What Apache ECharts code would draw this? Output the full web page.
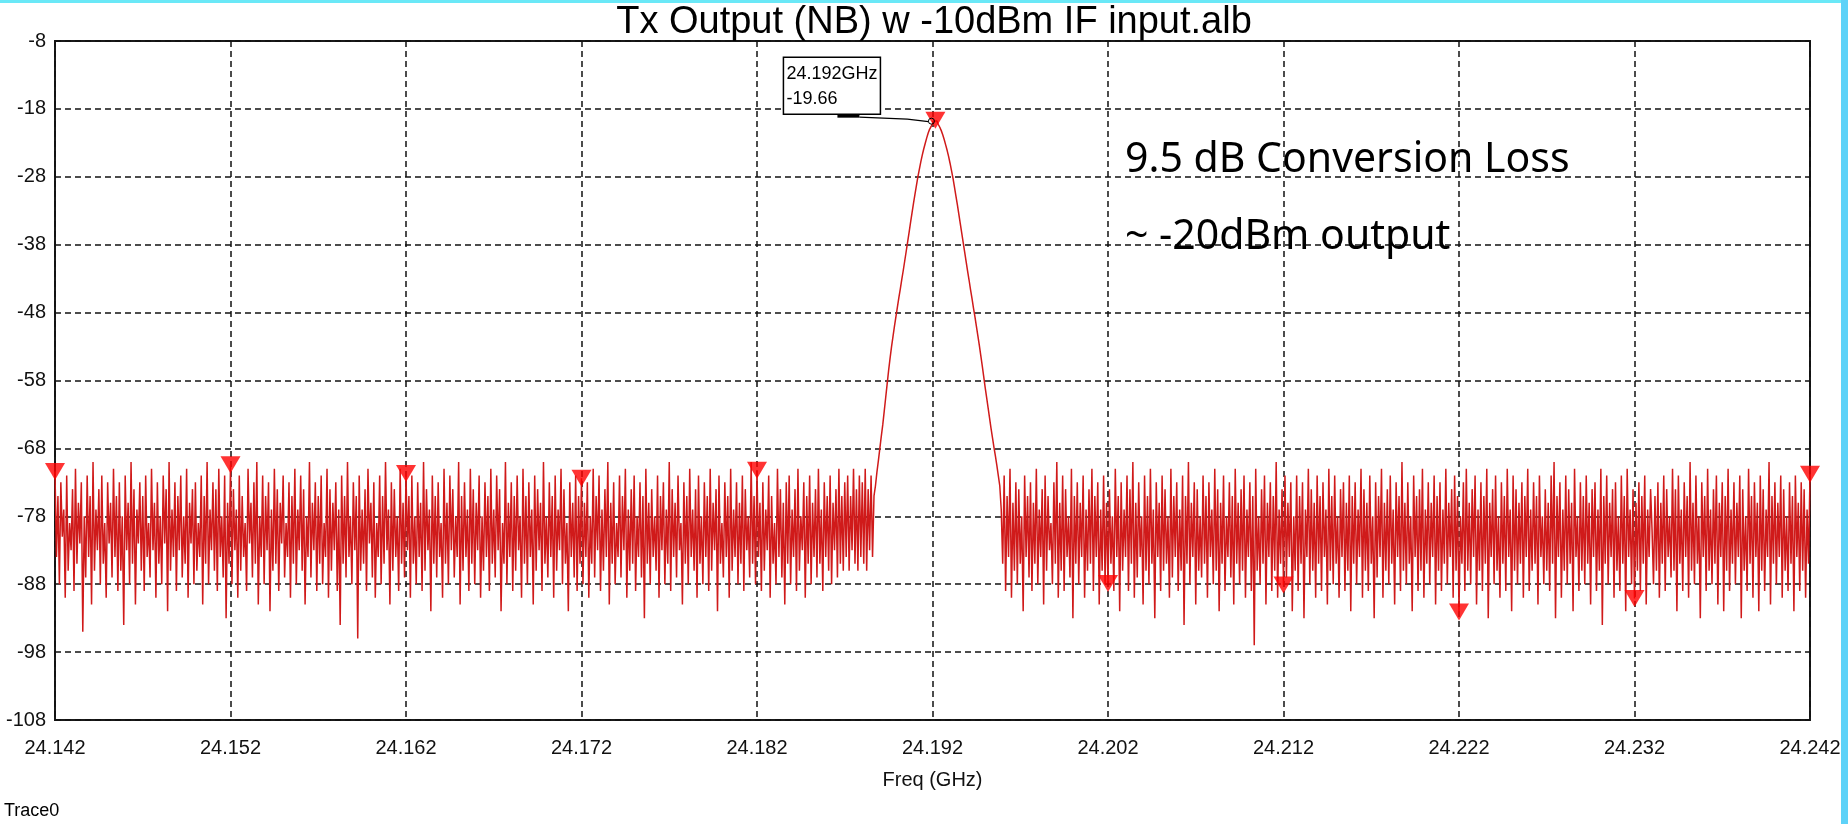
<!DOCTYPE html>
<html><head><meta charset="utf-8">
<script src="https://cdn.jsdelivr.net/npm/echarts@6/dist/echarts.min.js"></script>
<style>
html,body{margin:0;padding:0;background:#fff;}
#c{position:absolute;left:0;top:0;width:1848px;height:824px;}
#topbar{position:absolute;left:0;top:0;width:1848px;height:3px;background:#6ae8f7;}
#rightbar{position:absolute;left:1841px;top:0;width:7px;height:824px;background:#5ed2f8;}
</style></head><body>
<div id="c"></div><div id="topbar"></div><div id="rightbar"></div>
<script>
// ---- data ----
const TITLE = 'Tx Output (NB) w -10dBm IF input.alb';
const X_NAME = 'Freq (GHz)';
const TRACE_NAME = 'Trace0';
const NOTE_1 = '9.5 dB Conversion Loss';
const NOTE_2 = '~ -20dBm output';
const FREQ_START = 24.142;
const FREQ_STOP = 24.242;
const X_TICK_STEP = 0.01;
const Y_MIN = -108, Y_MAX = -8, Y_TICK_STEP = 10;
const PEAK_LABEL_FREQ = '24.192GHz';
const PEAK_LABEL_VALUE = '-19.66';

// sweep values (dBm), left noise floor up to the carrier
const NOISE_LEFT = [
-71.4,-84,-75,-88,-73,-81,-77,-90,-72,-86,-79,-83,-74,-89,-71,-85,-76,-82,-73,-95,
-78,-87,-72,-84,-75,-91,-70,-86,-77,-83,-74,-88,-72,-85,-79,-90,-73,-82,-76,-87,
-71,-84,-75,-89,-73,-86,-78,-94,-72,-83,-76,-88,-70,-85,-74,-91,-77,-82,-73,-86,
-75,-89,-72,-84,-79,-87,-71,-83,-76,-90,-73,-85,-78,-88,-72,-82,-74,-92,-70,-86,
-77,-84,-73,-89,-75,-83,-72,-87,-78,-85,-71,-90,-76,-82,-74,-88,-73,-86,-79,-84,
-72,-91,-75,-85,-70,-88,-77,-83,-73,-86,-74,-89,-71,-84,-78,-87,-72,-93,-76,-85,
-70.4,-88,-74,-83,-77,-90,-72,-86,-75,-84,-79,-89,-71,-82,-76,-87,-73,-85,-70,-91,
-78,-84,-72,-88,-75,-83,-73,-92,-77,-86,-71,-85,-74,-89,-76,-82,-72,-87,-79,-84,
-73,-90,-75,-85,-71,-88,-77,-83,-72,-86,-74,-91,-78,-84,-70,-87,-76,-83,-73,-89,
-75,-85,-72,-88,-79,-84,-71,-90,-74,-86,-76,-83,-73,-89,-77,-94,-72,-85,-75,-87,
-70,-84,-78,-88,-73,-83,-75,-96,-72,-86,-77,-85,-74,-89,-71,-82,-76,-87,-73,-90,
-79,-84,-72,-88,-75,-85,-70,-83,-77,-91,-73,-86,-74,-84,-78,-89,-71,-85,-76,-87,
-71.7,-83,-75,-90,-72,-85,-78,-88,-73,-84,-76,-89,-70,-86,-74,-83,-77,-92,-72,-85,
-75,-87,-73,-84,-79,-90,-71,-85,-76,-88,-72,-83,-74,-87,-78,-84,-70,-91,-75,-86,
-73,-84,-77,-89,-71,-85,-74,-88,-76,-83,-72,-90,-78,-86,-73,-84,-75,-89,-71,-85,
-77,-87,-72,-83,-74,-92,-79,-85,-70,-88,-76,-84,-73,-89,-75,-86,-72,-83,-78,-90,
-71,-85,-75,-88,-73,-84,-77,-91,-72,-86,-74,-83,-76,-89,-70,-85,-78,-87,-73,-84,
-75,-90,-72,-86,-77,-83,-71,-88,-74,-85,-79,-92,-73,-84,-76,-87,-72,-89,-75,-85,
-72.4,-88,-76,-84,-73,-90,-78,-85,-71,-87,-75,-83,-72,-89,-77,-86,-74,-84,-70,-91,
-76,-85,-73,-88,-79,-84,-72,-87,-75,-83,-71,-90,-77,-86,-74,-85,-72,-89,-78,-84,
-73,-87,-75,-93,-71,-85,-76,-88,-74,-84,-78,-86,-72,-90,-75,-83,-73,-88,-77,-85,
-70,-89,-74,-84,-76,-87,-72,-83,-79,-91,-73,-85,-75,-88,-71,-84,-77,-86,-74,-90,
-72,-85,-78,-88,-73,-84,-75,-89,-71,-86,-76,-83,-74,-92,-72,-85,-79,-87,-73,-84,
-75,-90,-71,-86,-77,-84,-73,-88,-76,-85,-72,-89,-74,-83,-78,-87,-70,-85,-75,-88,
-71.2,-84,-76,-89,-73,-86,-77,-83,-72,-90,-75,-85,-79,-88,-71,-84,-74,-87,-76,-91,
-73,-85,-72,-88,-77,-84,-74,-89,-71,-86,-78,-83,-73,-90,-75,-85,-72,-88,-76,-84,
-74,-87,-71,-85,-77,-89,-73,-84,-75,-86,-72,-88,-76,-83,-74,-87,-71,-85,-75,-86,
-73,-84,-72,-86,-75,-83,-71,-85,-74,-86,-72,-84,-73,-85,-71,-86,-74,-83,-72,-84,
-75
];
// carrier: rising edge, peak, falling edge
const PEAK_RISE = [-73.5,-71.5,-69.8,-68,-66.2,-64.5,-62.5,-60.5,-58.5,-56.5,-54.7,-53,-51.5,-50,-48.6,-47.2,-45.8,-44.5,-43.1,-41.8,-40.4,-39,-37.6,-36.2,-34.7,-33.3,-31.9,-30.6,-29.3,-28,-26.9,-25.8,-24.8,-23.9,-23.1,-22.3,-21.6,-21,-20.6,-20.2,-19.8];
const PEAK_VALUE = -19.66;
const PEAK_FALL = [-19.8,-20.3,-20.7,-21.2,-21.8,-22.5,-23.3,-24.1,-25,-26,-27.1,-28.2,-29.5,-30.8,-32.1,-33.5,-34.9,-36.3,-37.7,-39.1,-40.5,-41.9,-43.2,-44.6,-45.9,-47.3,-48.6,-50,-51.4,-52.8,-54.3,-55.8,-57.4,-59,-60.5,-62,-63.5,-65,-66.4,-67.8,-69.1,-70.5,-72,-73.5];
// right noise floor
const NOISE_RIGHT = [
-77,-85,-72,-89,-75,-84,-71,-90,-76,-86,-73,-88,-74,-85,-78,-92,-72,-84,-75,-87,
-73,-89,-76,-85,-71,-88,-77,-84,-74,-91,-72,-86,-75,-83,-79,-88,-73,-85,-70,-90,
-76,-86,-72,-89,-74,-84,-78,-87,-71,-93,-75,-85,-73,-88,-76,-84,-72,-90,-77,-86,
-74,-85,-71,-89,-75,-84,-73,-91,-77,-86,-72,-88,-76,-87.9,-74,-85,-78,-89,-71,-84,
-75,-92,-73,-86,-77,-84,-72,-89,-74,-85,-70,-90,-76,-87,-73,-84,-78,-91,-72,-86,
-75,-88,-71,-85,-77,-93,-73,-84,-76,-89,-72,-86,-74,-85,-78,-90,-71,-87,-75,-84,
-73,-89,-77,-86,-72,-94,-75,-85,-70,-88,-76,-84,-73,-91,-74,-86,-78,-87,-72,-85,
-75,-90,-73,-84,-77,-88,-71,-86,-74,-92,-76,-85,-72,-89,-78,-84,-73,-87,-75,-91,
-71,-85,-76,-88,-74,-86,-72,-90,-77,-84,-73,-89,-75,-97,-71,-86,-78,-88,-74,-85,
-72,-91,-76,-84,-73,-89,-75,-86,-70,-90,-77,-85,-74,-88.1,-72,-87,-76,-84,-73,-92,
-78,-86,-72,-89,-75,-85,-73,-93,-77,-84,-71,-88,-74,-86,-76,-90,-72,-85,-75,-89,
-73,-84,-77,-91,-71,-86,-75,-88,-72,-85,-78,-90,-74,-84,-73,-89,-76,-86,-72,-92,
-75,-85,-73,-88,-77,-84,-71,-90,-74,-86,-76,-89,-72,-85,-78,-93,-73,-87,-75,-84,
-71,-90,-76,-86,-74,-88,-72,-85,-77,-91,-73,-84,-75,-89,-70,-86,-76,-88,-73,-85,
-78,-92,-72,-84,-75,-89,-74,-86,-71,-90,-77,-85,-73,-88,-76,-84,-72,-91,-75,-86,
-73,-89,-77,-85,-71,-88,-76,-84,-74,-90,-72,-86,-75,-92.1,-78,-85,-73,-89,-71,-86,
-76,-88,-74,-84,-72,-91,-77,-86,-73,-89,-75,-85,-71,-93,-76,-84,-74,-88,-72,-86,
-78,-90,-73,-85,-75,-89,-71,-84,-77,-92,-72,-86,-74,-88,-76,-85,-73,-90,-75,-84,
-71,-89,-77,-86,-73,-85,-75,-91,-72,-84,-78,-88,-74,-86,-76,-89,-72,-85,-70,-93,
-75,-84,-73,-90,-77,-86,-72,-88,-74,-85,-76,-92,-71,-84,-78,-89,-73,-86,-75,-88,
-72,-85,-76,-91,-74,-84,-73,-89,-77,-86,-71,-94,-75,-85,-72,-88,-76,-84,-74,-90,
-73,-86,-78,-89,-72,-85,-75,-92,-71,-84,-77,-88,-74,-90.1,-76,-86,-73,-89,-75,-85,
-72,-91,-77,-84,-74,-80,-88,-75,-86,-73,-90,-76,-85,-72,-89,-74,-84,-78,-87,-71,
-86,-74,-92,-72,-85,-77,-89,-73,-84,-75,-90,-70,-86,-76,-88,-72,-85,-78,-93,-73,
-84,-75,-89,-71,-86,-77,-88,-74,-85,-72,-91,-76,-84,-73,-92,-75,-86,-71,-89,-77,
-85,-73,-88,-76,-84,-72,-93,-74,-86,-78,-89,-71,-85,-75,-90,-73,-84,-76,-92,-72,
-86,-74,-89,-77,-84,-70,-91,-75,-85,-73,-88,-76,-84,-72,-90,-74,-86,-78,-89,-73,
-85,-75,-92,-72,-84,-76,-89,-73,-86,-74,-90,-77,-85,-71.8
];
// trace markers: sweep indices at each grid frequency, plus the peak
const MARKER_INDEX = [0,120,240,360,480,602,720,840,960,1080,1200];

// ---- build ----
const trace = [].concat(NOISE_LEFT, PEAK_RISE, [PEAK_VALUE], PEAK_FALL, NOISE_RIGHT);
const nPts = trace.length;
const freqs = trace.map((_, i) => +(FREQ_START + i * (FREQ_STOP - FREQ_START) / (nPts - 1)).toFixed(7));
const lineData = trace.map((v, i) => [freqs[i], v]);
const markerData = MARKER_INDEX.map(i => [freqs[i], trace[i]]);
const PEAK_INDEX = NOISE_LEFT.length + PEAK_RISE.length;

const FONT = '"Liberation Sans", Arial, sans-serif';
const chart = echarts.init(document.getElementById('c'), null, {renderer: 'canvas'});
const dash = {color: '#111', width: 1.5, type: [6, 4]};
chart.setOption({
  animation: false,
  backgroundColor: '#ffffff',
  grid: {left: 55, right: 38, top: 41, bottom: 104, show: true, borderColor: '#1a1a1a', borderWidth: 2, backgroundColor: 'transparent'},
  xAxis: {
    type: 'value', min: FREQ_START, max: FREQ_STOP, interval: X_TICK_STEP,
    name: X_NAME, nameLocation: 'middle', nameGap: 50,
    nameTextStyle: {fontFamily: FONT, fontSize: 20, color: '#111'},
    axisLine: {show: false}, axisTick: {show: false},
    axisLabel: {formatter: v => v.toFixed(3), fontFamily: FONT, fontSize: 20, color: '#111', margin: 18},
    splitLine: {show: true, lineStyle: dash}
  },
  yAxis: {
    type: 'value', min: Y_MIN, max: Y_MAX, interval: Y_TICK_STEP,
    axisLine: {show: false}, axisTick: {show: false},
    axisLabel: {fontFamily: FONT, fontSize: 20, color: '#111', margin: 9},
    splitLine: {show: true, lineStyle: dash}
  },
  series: [
    {type: 'line', name: TRACE_NAME, data: lineData, symbol: 'none', showSymbol: false,
     lineStyle: {color: '#d01a1a', width: 1.5}, z: 3},
    {type: 'scatter', data: markerData, symbol: 'triangle', symbolRotate: 180, symbolSize: [20, 17],
     itemStyle: {color: '#ff0000'}, clip: true, z: 4}
  ]
});

const pk = chart.convertToPixel({xAxisIndex: 0, yAxisIndex: 0}, [freqs[PEAK_INDEX], trace[PEAK_INDEX]]);
const txt = (x, y, text, font, align) => ({type: 'text', x: x, y: y, z: 100,
  style: {text: text, font: font, fill: '#000', align: align, textAlign: align, verticalAlign: 'middle', textVerticalAlign: 'middle'}});
chart.setOption({
  graphic: [
    txt(934, 23, TITLE, '38px "Liberation Sans", Arial, sans-serif', 'center'),
    txt(4, 811, TRACE_NAME, '18px "Liberation Sans", Arial, sans-serif', 'left'),
    txt(1125, 160, NOTE_1, '41px "Noto Sans", sans-serif', 'left'),
    txt(1125, 237, NOTE_2, '41px "Noto Sans", sans-serif', 'left'),
    {type: 'rect', z: 100, shape: {x: pk[0] - 152, y: pk[1] - 63, width: 97, height: 57},
     style: {fill: '#fff', stroke: '#000', lineWidth: 1.5}},
    txt(pk[0] - 149, pk[1] - 46, PEAK_LABEL_FREQ, '18px "Liberation Sans", Arial, sans-serif', 'left'),
    txt(pk[0] - 149, pk[1] - 21, PEAK_LABEL_VALUE, '18px "Liberation Sans", Arial, sans-serif', 'left'),
    {type: 'line', z: 100, shape: {x1: pk[0] - 98, y1: pk[1] - 4, x2: pk[0] - 76, y2: pk[1] - 4}, style: {stroke: '#000', lineWidth: 3}},
    {type: 'polyline', z: 100, shape: {points: [[pk[0] - 76, pk[1] - 3], [pk[0] - 28, pk[1] - 1], [pk[0] - 7, pk[1] + 1.5]]}, style: {stroke: '#000', lineWidth: 1.2, fill: null}},
    {type: 'circle', z: 100, shape: {cx: pk[0] - 4, cy: pk[1] + 1, r: 3}, style: {stroke: '#000', lineWidth: 1, fill: 'none'}}
  ]
});
</script></body></html>
